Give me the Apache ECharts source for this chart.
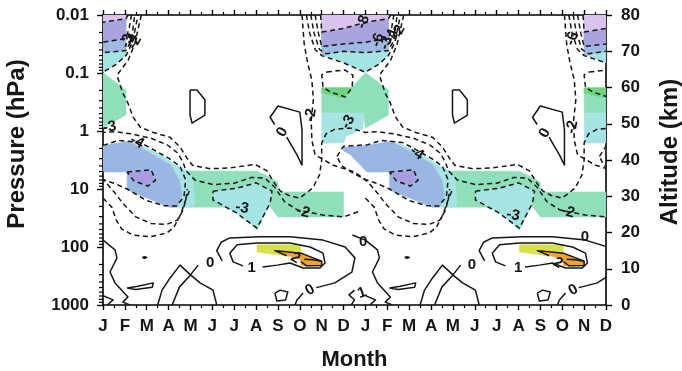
<!DOCTYPE html>
<html><head><meta charset="utf-8">
<script src="https://cdn.jsdelivr.net/npm/echarts@6/dist/echarts.min.js"></script>
<style>html,body{margin:0;padding:0;background:#fff}#c{width:682px;height:371px}</style>
</head><body><div id="c"></div>
<script>
// ---------------- axis data ----------------
const monthLabels = ['J','F','M','A','M','J','J','A','S','O','N','D','J','F','M','A','M','J','J','A','S','O','N','D'];
const pressureLabels = ['1000','100','10','1','0.1','0.01'];   // every 16 km (scale height based)
const altitudeTicks = [0,10,20,30,40,50,60,70,80];
const minorPressures = [2,3,4,5,6,7,8,9,20,30,40,50,60,70,80,90,200,300,400,500,600,700,800,900,
  0.2,0.3,0.4,0.5,0.6,0.7,0.8,0.9,0.02,0.03,0.04,0.05,0.06,0.07,0.08,0.09];
const CYCLE_OFFSETS = [-12, 0, 12, 24];   // the annual cycle is drawn twice

// ---------------- shaded regions: [month, altitude km] (one annual cycle) ----------------
const fillGreenB   = [[10,59.9],[11.35,59.9],[12,64.1],[13.05,59.3],[13.05,52.4],[12,48.8],[11.9,52.9],[10,52.9]];
const fillBrightGr = [[10,59.9],[11.4,59.9],[11.0,57.1],[10,58.5]];
const fillCyanC    = [[10,52.9],[11.9,52.9],[11.9,48.6],[11.1,46.5],[11.0,44.7],[10,44.7]];
const fillGreenF   = [[3.9,37.0],[7.04,36.9],[7.6,35.3],[8.0,33.9],[8.0,31.2],[11.0,31.2],[11.0,24.3],[8.0,24.3],[7.6,27.5],[7.04,20.7],[6.1,27.0],[3.5,27.0]];
const fillCyanE    = [[1.3,45.3],[2.6,41.6],[3.4,38.3],[3.9,37.0],[4.1,34.5],[4.2,28.0],[4.1,27.0],[3.0,27.0],[3.4,30.0],[3.5,34.5],[3.1,38.6],[1.9,42.8]];
const fillBlueD    = [[-1.0,43.5],[0,44.0],[1.2,45.2],[1.9,42.8],[3.1,38.6],[3.5,34.5],[3.6,30.3],[3.4,27.0],[3.05,27.0],[1.1,31.7],[1.1,36.7],[0.07,36.7],[-0.7,41.5],[-1.0,42.5]];
const fillViolet   = [[1.14,36.4],[2.15,37.0],[2.3,34.5],[2.05,33.1],[1.46,34.5]];
const fillCyanG    = [[5.03,31.4],[6.1,32.2],[7.0,33.7],[7.73,31.4],[7.64,28.1],[7.04,21.2],[6.1,25.4],[5.03,29.0]];
const fillYellow   = [[7.04,16.6],[9.05,16.6],[9.05,13.0],[7.04,14.6]];
const fillOrange   = [[8.0,15.2],[9.05,14.3],[10.0,12.1],[10.0,10.8],[9.05,10.8],[9.05,12.4],[8.0,14.7]];
const fillCyanTop  = [[10,80],[13.05,80],[13.05,68.8],[12.6,66.4],[12,64.2],[11,66.8],[10.5,68.0],[10,69.0]];
const fillBlueTop  = [[10,80],[13.05,80],[13.05,70.2],[12,69.6],[11,70.0],[10,69.0]];
const fillPurpleTop= [[10,80],[13.05,80],[13.05,73.5],[12,72.5],[11,72.0],[10,71.2]];
const fillLavender = [[10,80],[13.05,80],[13.05,79.0],[12,78.0],[11,76.3],[10,75.3]];

// ---------------- contour lines: [month, altitude km] ----------------
const dashU1 = [[9.95,80],[10.0,75.3],[11,76.3],[12,78.0],[13.05,79.0],[13.15,80]];
const dashU2 = [[9.7,80],[9.85,75],[10.0,71.3],[11,72.0],[12,72.5],[13.05,73.5],[13.2,76.5],[13.3,80]];
const dashU3 = [[9.5,80],[9.65,75],[9.9,70.5],[10.2,69.3],[11,70.0],[12,69.6],[13.05,70.2],[13.3,73],[13.45,80]];
const dashU4 = [[9.3,80],[9.45,75],[9.7,70.5],[10.0,68.8],[11,66.8],[12,64.2],[12.6,66.4],[13.05,68.8],[13.35,72.5],[13.6,80]];
const dashU5 = [[9.1,80],[9.2,72],[9.35,67],[9.55,62],[9.62,56.6],[9.52,51],[9.55,45.5],[9.7,41.4],[10.0,40.4],[10.5,38.6],[11.5,36.7],[12.1,34.0],[12.6,30.5],[12.9,28.1],[13.5,24.3],[14.2,22.5],[14.9,22.2],[15.4,23.4],[15.65,26],[15.8,29.5],[15.85,32]];
const dashLong = [[1.75,80],[1.6,76],[1.45,72],[1.15,67.5],[0.64,63.4],[0.9,58.5],[1.14,55.7],[1.37,51.9],[1.7,49.1],[2.3,47.6],[3.06,46.3],[3.52,43.6],[3.84,40.5],[4.1,38.5],[4.9,37.6],[5.8,37.8],[6.95,38.8],[7.5,37.0],[7.85,33.5],[8.1,31.5],[8.5,30.2],[9.0,29.5],[9.6,32.3],[9.9,35.9],[10.0,40],[10.0,44.7],[10.2,47.2],[10.6,48.5],[11.3,48.8],[12.0,47.6],[12.6,47.8],[13.3,47.2],[14.2,46.0],[14.93,44.2],[15.4,42.0],[15.65,39.5],[15.8,37.0],[16.2,34.5],[17.03,33.2],[18.0,33.6],[18.8,35.2],[19.4,35.0],[19.85,32.5],[20.3,28.5],[20.9,26.2],[22.06,24.8],[23.0,24.3],[23.7,25.8]];
const dashHex  = [[10.24,64.3],[11.07,64.8],[11.43,63.4],[11.39,59.9],[11.07,57.4],[10.38,58.8],[10.06,60.1],[10.0,63.5],[10.24,64.3]];
const dashBlue = [[-1.3,41],[-1.0,43.8],[0.1,44.2],[0.7,45.4],[1.7,44.8],[2.15,43.4],[3.0,40.5],[3.52,38.3],[3.78,34.5],[3.7,29.8],[3.35,27.3],[2.8,27.4],[2.0,28.8],[1.1,32.0],[0.5,33.6],[0.0,34.6],[-0.6,36.5],[-1.1,38.5],[-1.3,41]];
const dashViolet = [[1.1,36.7],[2.2,37.3],[2.4,34.4],[2.05,32.8],[1.4,34.3],[1.1,36.7]];
const dashPatch  = [[5.03,31.4],[6.1,32.2],[7.0,33.7],[7.73,31.4],[7.64,28.1],[7.04,21.2],[6.1,25.4],[5.03,29.0],[5.03,31.4]];
const dashOuterU = [[0.0,29.5],[0.4,27.0],[0.6,23.5],[0.85,21.0],[1.37,19.3],[2.15,18.8],[2.93,19.9],[3.25,21.5],[3.55,25.0],[3.75,28.5],[3.95,31.5]];

const solidD     = [[3.98,59.3],[4.3,59.3],[4.66,56.6],[4.66,52.4],[4.07,50.2],[3.98,52.4],[3.98,59.3]];
const solidWedge = [[7.85,49.8],[7.64,51.8],[8.0,54.9],[9.0,53.2],[9.1,48.3],[9.1,38.6],[8.87,41.4],[8.55,44.7],[8.4,46.3]];
const solidCapA  = [[2.5,0],[2.7,4.1],[3.06,7.4],[3.52,11.0],[4.0,8.3],[4.44,6.1],[5.03,4.1],[5.2,0]];
const solidCapB  = [[3.16,0],[3.5,5.0],[4.0,8.3],[4.35,11.0]];
const solidBig   = [[5.45,12.2],[5.2,15.0],[5.4,17.3],[5.8,18.5],[7.18,18.8],[8.55,18.8],[10.06,17.9],[11.07,16.0],[11.52,13.0],[11.38,9.1],[10.6,6.1],[9.9,5.0],[9.75,4.8]];
const solidBigTail = [[9.15,3.3],[8.87,1.4],[8.78,0]];
const solidOne   = [[6.4,10.8],[5.95,11.9],[5.8,14.3],[6.13,16.6],[7.04,17.1],[8.55,17.1],[9.47,16.0],[10.06,14.3],[10.15,11.6],[9.92,10.2],[9.15,10.2],[8.55,11.6],[7.96,11.0],[7.3,10.5]];
const solidTwo   = [[9.2,12.6],[9.6,12.5],[10.0,12.1],[10.0,10.9],[9.3,10.8],[9.05,12.0]];
const solidTwoB  = [[8.4,13.6],[7.86,15.0],[9.05,14.3],[10.0,12.1]];
const solidLeft  = [[-0.6,19.3],[0,17.9],[0.55,15.2],[0.64,13],[0.32,9.1],[0.55,6.1],[1.14,2.2],[0.91,0.8],[1.23,0]];
const solidDot   = [[1.8,13.1],[1.9,13.3],[2.0,13.1],[1.9,12.9],[1.8,13.1]];
const solidElong = [[1.1,4.7],[1.6,5.2],[2.3,6.1],[2.25,4.9],[1.5,4.3],[1.1,4.7]];
const solidSmall = [[7.86,3.3],[8.1,4.1],[8.45,3.6],[8.35,1.4],[7.95,1.1],[7.86,3.3]];
const solidBotL  = [[0.0,2.6],[0.46,1.4],[0.2,0]];
const solidBotR  = [[11.35,0],[11.5,1.4],[11.25,2.8],[11.5,4.1]];

// ---------------- contour labels: [month (absolute), km, text, rotation deg] ----------------
const contourLabels = [
  [11.9,78.1,'-8',70],[12.57,73.1,'-6',70],[12.95,72.3,'-3',70],[13.2,74.2,'-4',70],[13.5,75.3,'-2',60],
  [1.1,72.8,'-3',70],[1.3,73.0,'-4',60],[1.45,72.4,'-2',60],[21.45,73.5,'-6',70],
  [0.3,49.1,'-3',10],[11.2,50.5,'-3',60],[1.55,45.0,'-4',-30],[14.35,41.9,'-4',-35],
  [9.5,52.4,'-2',80],[21.45,49.1,'-2',80],[8.2,47.7,'0',60],[20.2,47.4,'0',60],
  [6.36,26.8,'-3',-10],[18.75,24.8,'-3',-10],[9.15,25.7,'-2',-15],[21.26,25.7,'-2',-15],
  [4.9,11.6,'0',0],[6.8,10.2,'1',0],[8.8,13.0,'2',-30],[9.47,4.1,'0',30],
  [11.9,17.4,'0',0],[11.84,3.3,'1',20],[16.87,11.0,'0',0],[18.98,10.2,'1',0],[20.8,11.6,'2',-30],
  [22.04,18.8,'0',0],[21.5,4.1,'0',30]
];

// ---------------- build ----------------
const fills = [
  [fillGreenB,'#8fe0ba'],[fillBrightGr,'#6ed480'],[fillCyanC,'#a6e3e3'],[fillGreenF,'#8fe0ba'],
  [fillCyanE,'#a6e3e3'],[fillBlueD,'#9bb6e3'],[fillViolet,'#a99ce0'],[fillCyanG,'#a6e3e3'],
  [fillYellow,'#d5e24c'],[fillOrange,'#f5a12d'],
  [fillCyanTop,'#a6e3e3'],[fillBlueTop,'#9fbae2'],[fillPurpleTop,'#a9a4de'],[fillLavender,'#dac4ee']
];
const lines = [
  [dashU1,1],[dashU2,1],[dashU3,1],[dashU4,1],[dashU5,1],[dashLong,1],[dashHex,1],[dashBlue,1],
  [dashViolet,1],[dashPatch,1],[dashOuterU,1],
  [solidD,0],[solidWedge,0],[solidCapA,0],[solidCapB,0],[solidBig,0],[solidBigTail,0],[solidOne,0],
  [solidTwo,0],[solidTwoB,0],[solidLeft,0],[solidDot,0],[solidElong,0],[solidSmall,0],[solidBotL,0],[solidBotR,0]
];
function inView(pts, off){
  const xs = pts.map(p => p[0] + off);
  return Math.max(...xs) >= 0 && Math.min(...xs) <= 23;
}
const fillItems = [], lineItems = [];
fills.forEach(([pts,color]) => CYCLE_OFFSETS.forEach(off => { if (inView(pts,off)) fillItems.push({pts,color,off}); }));
lines.forEach(([pts,dashed]) => CYCLE_OFFSETS.forEach(off => { if (inView(pts,off)) lineItems.push({pts,dashed,off}); }));

function clipOf(params){
  const cs = params.coordSys;
  return {type:'rect', shape:{x:cs.x, y:cs.y, width:cs.width, height:cs.height}};
}
const FONT = 'Liberation Sans, Arial, Helvetica, sans-serif';
const INK = '#161616';

const chart = echarts.init(document.getElementById('c'));
const axisCommon = {
  axisLine:{show:true, onZero:false, lineStyle:{color:'#000', width:1.6}},
  splitLine:{show:false},
};
const tickFont = {fontFamily:FONT, fontWeight:'bold', fontSize:17, color:INK};
const titleFont = {fontFamily:FONT, fontWeight:'bold', fontSize:22, color:INK};
chart.setOption({
  animation:false,
  backgroundColor:'#fff',
  grid:{left:103, right:76, top:15, bottom:66, containLabel:false, outerBoundsMode:'none'},
  xAxis:[
    Object.assign({type:'value', min:0, max:23, interval:1, position:'bottom',
      axisLabel:Object.assign({formatter:v => monthLabels[v] || '', margin:13}, tickFont),
      axisTick:{show:true, inside:false, length:5, lineStyle:{color:'#000', width:1.4}},
      minorTick:{show:true, splitNumber:2, length:3, lineStyle:{color:'#000', width:1.2}},
      name:'Month', nameLocation:'middle', nameGap:44, nameTextStyle:titleFont}, axisCommon),
    Object.assign({type:'value', min:0, max:23, interval:1, position:'top',
      axisLabel:{show:false},
      axisTick:{show:true, inside:false, length:5, lineStyle:{color:'#000', width:1.4}},
      minorTick:{show:true, splitNumber:2, length:3, lineStyle:{color:'#000', width:1.2}}}, axisCommon)
  ],
  yAxis:[
    Object.assign({type:'value', min:0, max:80, interval:16, position:'left',
      axisLabel:Object.assign({formatter:v => pressureLabels[Math.round(v/16)], margin:14}, tickFont),
      axisTick:{show:true, inside:false, length:6, lineStyle:{color:'#000', width:1.4}},
      name:'Pressure (hPa)', nameLocation:'middle', nameGap:74, nameRotate:90,
      nameTextStyle:{fontFamily:FONT, fontWeight:'bold', fontSize:24, color:INK, padding:[0,0,0,32]}}, axisCommon),
    Object.assign({type:'value', min:0, max:80, interval:10, position:'right',
      axisLabel:Object.assign({formatter:v => String(v), margin:15}, tickFont),
      axisTick:{show:true, inside:false, length:6, lineStyle:{color:'#000', width:1.4}},
      name:'Altitude (km)', nameLocation:'middle', nameGap:52, nameRotate:90,
      nameTextStyle:{fontFamily:FONT, fontWeight:'bold', fontSize:24, color:INK, padding:[0,0,0,16]}}, axisCommon)
  ],
  series:[
    {type:'custom', name:'shading', xAxisIndex:0, yAxisIndex:0, z:1, silent:true,
     data: fillItems.map((d,i)=>[i,0]),
     renderItem:(params, api) => {
       const it = fillItems[params.dataIndex];
       const pts = it.pts.map(p => api.coord([p[0]+it.off, p[1]]));
       return {type:'group', clipPath:clipOf(params), children:[
         {type:'polygon', shape:{points:pts}, style:{fill:it.color, stroke:it.color, lineWidth:0.5}}]};
     }},
    {type:'custom', name:'contours', xAxisIndex:0, yAxisIndex:0, z:3, silent:true,
     data: lineItems.map((d,i)=>[i,0]),
     renderItem:(params, api) => {
       const it = lineItems[params.dataIndex];
       const pts = it.pts.map(p => api.coord([p[0]+it.off, p[1]]));
       return {type:'group', clipPath:clipOf(params), children:[
         {type:'polyline', shape:{points:pts},
          style:{fill:null, stroke:INK, lineWidth:1.5, lineDash: it.dashed ? [5,3.5] : null, lineJoin:'round'}}]};
     }},
    {type:'custom', name:'labels', xAxisIndex:0, yAxisIndex:0, z:4, silent:true,
     data: contourLabels.map((d,i)=>[d[0], d[1], i]),
     renderItem:(params, api) => {
       const d = contourLabels[params.dataIndex];
       const c = api.coord([d[0], d[1]]);
       return {type:'text', x:c[0], y:c[1], rotation:d[3]*Math.PI/180,
         style:{text:d[2], fill:INK, font:'bold 15px '+FONT, textAlign:'center', textVerticalAlign:'middle', align:'center', verticalAlign:'middle'}};
     }},
    {type:'custom', name:'pressureMinorTicks', xAxisIndex:0, yAxisIndex:0, z:5, silent:true,
     data: minorPressures.map(p => [0, 16*Math.log10(1000/p)]),
     renderItem:(params, api) => {
       const c = api.coord([api.value(0), api.value(1)]);
       return {type:'line', shape:{x1:c[0]-4, y1:c[1], x2:c[0], y2:c[1]}, style:{stroke:'#000', lineWidth:1.2}};
     }}
  ]
});
</script></body></html>
